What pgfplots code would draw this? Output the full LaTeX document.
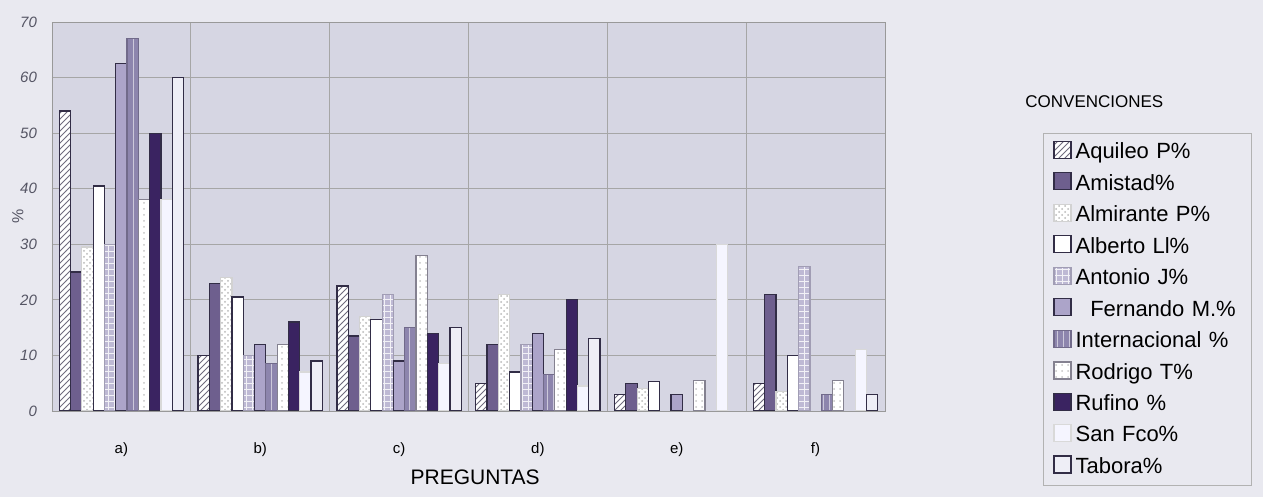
\documentclass[border=0pt]{standalone}
\usepackage{fontspec}
\setmainfont{Liberation Sans}
\usepackage{pgfplots}
\pgfplotsset{compat=1.18}
\usetikzlibrary{patterns}

\definecolor{bgout}{RGB}{233,233,240}
\definecolor{bgplot}{RGB}{214,214,227}
\definecolor{edge}{RGB}{50,45,70}
\definecolor{amistad}{RGB}{110,95,142}
\definecolor{antonio}{RGB}{190,185,212}
\definecolor{fernando}{RGB}{172,164,201}
\definecolor{intl}{RGB}{141,133,173}
\definecolor{rufino}{RGB}{58,35,97}
\definecolor{tabora}{RGB}{238,238,246}
\definecolor{ticktext}{RGB}{85,85,100}

\pgfplotstableread{
x Aquileo Amistad Almirante Alberto Antonio Fernando Intl Rodrigo Rufino SanFco Tabora
0 54   25   29.5 40.5 30  62.5 67  38  50  38  60
1 10   23   24   20.5 10  12   8.5 12  16  7   9
2 22.5 13.5 17   16.5 21  9    15  28  14  8.5 15
3 5    12   21   7    12  14   6.5 11  20  4.5 13
4 3    5    4    5.3  nan 3    nan 5.5 nan 30  nan
5 5    21   3.5  10   26  nan  3   5.5 nan 11  3
}\datatable

\pgfplotsset{
  leg/.style={/pgfplots/legend image code/.code={%
    \draw[##1,/tikz/.cd,line width=0.6pt] (0pt,-3pt) rectangle (8.5pt,5.5pt);}},
}

\begin{document}
\begin{tikzpicture}
\fill[bgout] (0,0) rectangle (631.5pt,248.5pt);
\useasboundingbox (0,0) rectangle (631.5pt,248.5pt);
\node[anchor=west,font=\fontsize{8.5}{10}\selectfont,inner sep=0pt] at (512.5pt,197.5pt) {CONVENCIONES};
\begin{axis}[
  at={(26pt,43pt)}, anchor=south west,
  scale only axis, width=416.5pt, height=194.5pt,
  xmin=-0.5, xmax=5.5, ymin=0, ymax=70,
  ybar=0pt, bar width=5.65pt,
  unbounded coords=discard,
  xtick={0,...,5}, xticklabels={a),b),c),d),e),f)},
  minor xtick={0.5,1.5,2.5,3.5,4.5},
  ytick={0,10,...,70},
  ymajorgrids, xminorgrids,
  major grid style={draw=gray!70, line width=0.4pt},
  minor grid style={draw=gray!70, line width=0.4pt},
  axis background/.style={fill=bgplot},
  axis line style={draw=gray!80},
  tick style={draw=none},
  minor tick style={draw=none},
  yticklabel style={font=\fontsize{7.5}{9}\itshape, text=ticktext, xshift=-4pt},
  xticklabel style={font=\fontsize{7.5}{9}\selectfont, text=black, yshift=-8pt},
  /pgf/number format/assume math mode=true,
  xlabel={PREGUNTAS},
  ylabel={\%},
  every axis x label/.style={at={(axis description cs:0.508,-0.17)}, anchor=center, font=\fontsize{10.5}{12}\selectfont},
  every axis y label/.style={at={(axis description cs:-0.041,0.5)}, anchor=center, rotate=90, font=\fontsize{8}{10}\selectfont, text=ticktext},
  legend style={at={(1.1897,0.714)}, anchor=north west, draw=gray!60, fill=bgout,
    font=\fontsize{11}{13}\selectfont, inner xsep=5pt, inner ysep=2.5pt, row sep=2.3pt,
    text width=81pt},
  legend cell align=left,
  every axis plot/.append style={line width=0.6pt},
]
\addplot[leg, fill=white, draw=edge, postaction={pattern=north east lines, pattern color=edge!70}] table[x=x,y=Aquileo] {\datatable};
\addlegendentry{Aquileo P\%}
\addplot[leg, fill=amistad, draw=edge] table[x=x,y=Amistad] {\datatable};
\addlegendentry{Amistad\%}
\addplot[leg, fill=white, draw=gray!35, postaction={pattern=crosshatch dots, pattern color=gray!55}] table[x=x,y=Almirante] {\datatable};
\addlegendentry{Almirante P\%}
\addplot[leg, fill=white, draw=edge] table[x=x,y=Alberto] {\datatable};
\addlegendentry{Alberto Ll\%}
\addplot[leg, fill=antonio, draw=antonio!85!black, postaction={pattern=grid, pattern color=white!80!antonio}] table[x=x,y=Antonio] {\datatable};
\addlegendentry{Antonio J\%}
\addplot[leg, fill=fernando, draw=edge] table[x=x,y=Fernando] {\datatable};
\addlegendentry{\ \ Fernando M.\%}
\addplot[leg, fill=intl, draw=intl!80!black, postaction={pattern=vertical lines, pattern color=intl!45!white}] table[x=x,y=Intl] {\datatable};
\addlegendentry{Internacional \%}
\addplot[leg, fill=white, draw=edge!60, postaction={pattern=dots, pattern color=gray!45}] table[x=x,y=Rodrigo] {\datatable};
\addlegendentry{Rodrigo T\%}
\addplot[leg, fill=rufino, draw=edge] table[x=x,y=Rufino] {\datatable};
\addlegendentry{Rufino \%}
\addplot[leg, fill=white!96!blue, draw=gray!30] table[x=x,y=SanFco] {\datatable};
\addlegendentry{San Fco\%}
\addplot[leg, fill=tabora, draw=edge] table[x=x,y=Tabora] {\datatable};
\addlegendentry{Tabora\%}
\end{axis}
\end{tikzpicture}
\end{document}
